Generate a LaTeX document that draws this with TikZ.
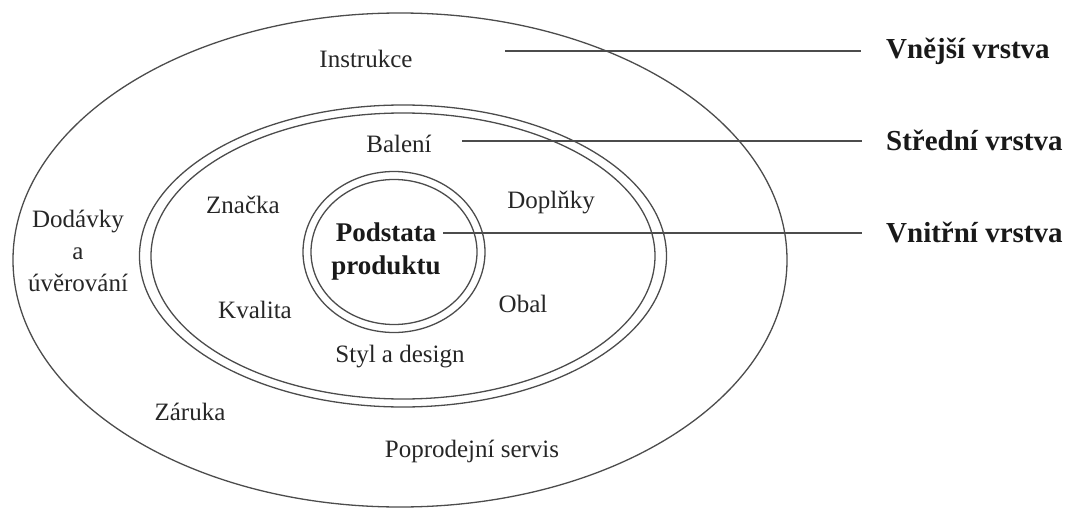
\documentclass[tikz,border=0pt]{standalone}
\usepackage{fontspec}
\setmainfont{Liberation Serif}
\usetikzlibrary{shapes.geometric,positioning}

\begin{document}
\begin{tikzpicture}[x=1pt,y=-1pt,
ring/.style = {draw=black!70, line width=1.3pt, ellipse, inner sep=0pt, outer sep=0pt},
item/.style = {text=black!85, font=\fontsize{25}{32}\selectfont, inner sep=0pt},
heavy/.style = {text=black!90, font=\bfseries\fontsize{27}{33}\selectfont, inner sep=0pt},
layer/.style = {text=black!90, font=\bfseries\fontsize{29}{33}\selectfont, inner sep=0pt, anchor=base west},
wire/.style = {draw=black!70, line width=1.3pt},]
\useasboundingbox (0,0) rectangle (1080,511);
% vrstvy produktu
\node (outer) at (400,260)[ring, minimum width=774pt, minimum height=494pt] {};
\node (midA) at (403,256)[ring, minimum width=527pt, minimum height=302pt] {};
\node (midB) at (403,256)[ring, minimum width=504pt, minimum height=286pt] {};
\node (coreA) at (394,252)[ring, minimum width=182pt, minimum height=161pt] {};
\node (coreB) at (394,252)[ring, minimum width=166pt, minimum height=145pt] {};
% vnejsi vrstva
\node (instr) at (366,68)[item, anchor=base] {Instrukce};
\node (dodavky) at (78,251)[item, align=center] {Dodávky\\a\\úvěrování};
\node (zaruka) at (190,420)[item, anchor=base] {Záruka};
\node (servis) at (472,457)[item, anchor=base] {Poprodejní servis};
% stredni vrstva
\node (baleni) at (399,152)[item, anchor=base] {Balení};
\node (znacka) at (243,213)[item, anchor=base] {Značka};
\node (doplnky) at (551,208)[item, anchor=base] {Doplňky};
\node (kvalita) at (255,318)[item, anchor=base] {Kvalita};
\node (obal) at (523,312)[item, anchor=base] {Obal};
\node (styl) at (400,362)[item, anchor=base] {Styl a design};
% jadro
\node (podstata) at (386,252)[heavy, align=center] {Podstata\\produktu};
% nazvy vrstev
\node (vnejsi) at (886,59)[layer] {Vnější vrstva};
\node (stredni) at (886,150)[layer] {Střední vrstva};
\node (vnitrni) at (886,242)[layer] {Vnitřní vrstva};
\coordinate (v1) at (505,51);
\coordinate (v2) at (462,141);
\coordinate (v3) at (443,233);
\draw[wire, shorten >=25pt] (v1) -- (v1 -| vnejsi.west);
\draw[wire, shorten >=24pt] (v2) -- (v2 -| stredni.west);
\draw[wire, shorten >=24pt] (v3) -- (v3 -| vnitrni.west);
\end{tikzpicture}
\end{document}
